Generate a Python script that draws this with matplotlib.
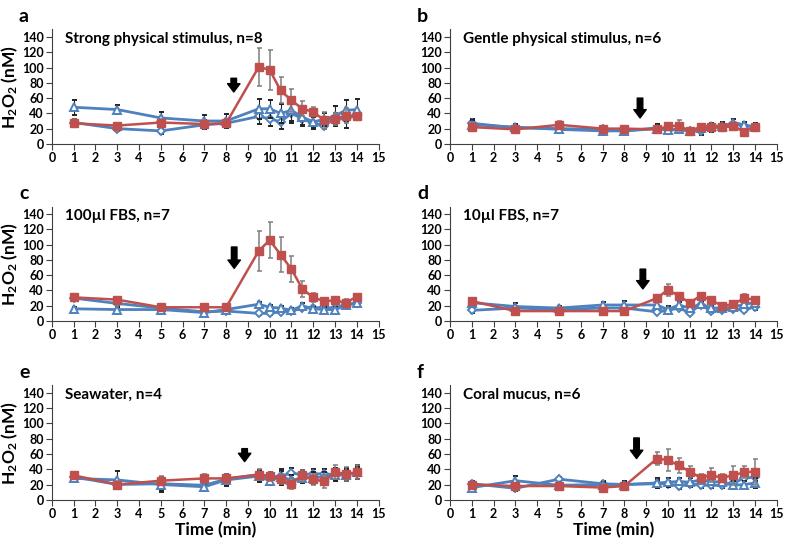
import matplotlib.pyplot as plt

plt.rcParams['font.family'] = ['Lato', 'DejaVu Sans']
plt.rcParams['font.weight'] = 'bold'
plt.rcParams['mathtext.fontset'] = 'custom'
plt.rcParams['mathtext.rm'] = 'Lato:bold'
plt.rcParams['mathtext.default'] = 'rm'

RED = '#C0504D'
BLUE = '#4F81BD'

# sampling times (min)
t = [1, 3, 5, 7, 8, 9.5, 10, 10.5, 11, 11.5, 12, 12.5, 13, 13.5, 14]

# panel a: strong physical stimulus
a_red = [27, 24, 28, 26, 27, 101, 97, 70, 57, 46, 42, 31, 33, 37, 36]
a_red_err = [5, 3, 5, 4, 3, 25, 26, 17, 15, 10, 6, 11, 8, 10, 5]
a_tri = [48, 45, 34, 30, 30, 46, 46, 40, 44, 35, 29, 32, 37, 44, 45]
a_tri_err = [10, 6, 8, 8, 9, 13, 12, 12, 14, 10, 8, 9, 13, 14, 14]
a_dia = [28, 20, 17, 25, 27, 36, 33, 29, 40, 33, 27, 24, 33, 33, 37]
a_dia_err = [4, 3, 4, 6, 5, 10, 10, 9, 12, 9, 8, 5, 7, 12, 5]

# panel b: gentle physical stimulus
b_red = [22, 19, 25, 20, 20, 19, 23, 24, 17, 22, 22, 22, 23, 16, 22]
b_red_err = [5, 4, 5, 3, 3, 4, 4, 7, 4, 4, 4, 4, 4, 3, 4]
b_tri = [25, 22, 19, 17, 17, 20, 18, 19, 17, 21, 24, 23, 28, 25, 22]
b_tri_err = [6, 4, 4, 5, 3, 6, 4, 4, 4, 5, 4, 6, 4, 4, 5]
b_dia = [27, 21, 20, 19, 17, 21, 18, 19, 17, 17, 21, 22, 26, 24, 22]
b_dia_err = [6, 5, 4, 4, 3, 5, 4, 4, 4, 5, 5, 5, 3, 4, 4]

# panel c: 100 ul FBS
c_red = [31, 28, 18, 18, 18, 92, 106, 87, 68, 42, 31, 26, 27, 24, 32]
c_red_err = [4, 3, 2, 2, 2, 26, 24, 23, 17, 10, 6, 3, 3, 5, 4]
c_tri = [16, 15, 15, 11, 15, 22, 18, 17, 14, 20, 16, 15, 15, 21, 23]
c_tri_err = [2, 2, 2, 2, 2, 3, 3, 3, 3, 4, 3, 3, 3, 3, 3]
c_dia = [30, 23, 17, 12, 13, 10, 10, 12, 13, 17, 17, 18, 17, 22, 23]
c_dia_err = [3, 3, 2, 2, 2, 2, 2, 2, 2, 3, 3, 3, 3, 3, 3]

# panel d: 10 ul FBS
d_red = [26, 13, 13, 13, 13, 30, 41, 33, 24, 33, 27, 20, 22, 30, 28]
d_red_err = [4, 2, 2, 2, 2, 4, 8, 4, 3, 3, 4, 3, 3, 6, 4]
d_tri = [24, 19, 17, 21, 21, 21, 15, 21, 17, 22, 17, 17, 18, 22, 24]
d_tri_err = [6, 4, 3, 4, 5, 4, 5, 4, 3, 4, 3, 3, 3, 4, 4]
d_dia = [14, 17, 15, 17, 17, 12, 14, 17, 11, 21, 13, 14, 16, 14, 19]
d_dia_err = [3, 3, 2, 3, 3, 2, 3, 3, 2, 3, 2, 2, 2, 2, 5]

# panel e: seawater
e_red = [32, 20, 25, 28, 28, 33, 31, 27, 21, 32, 27, 24, 36, 34, 36]
e_red_err = [3, 4, 6, 6, 6, 7, 6, 6, 7, 7, 7, 8, 9, 9, 9]
e_tri = [28, 26, 20, 17, 26, 31, 25, 30, 26, 28, 29, 30, 33, 32, 36]
e_tri_err = [4, 12, 10, 4, 8, 8, 6, 10, 6, 6, 8, 7, 9, 8, 9]
e_dia = [30, 20, 21, 19, 27, 33, 30, 31, 35, 33, 34, 34, 33, 34, 35]
e_dia_err = [3, 4, 8, 4, 6, 6, 6, 7, 6, 6, 6, 6, 9, 8, 8]

# panel f: coral mucus
f_red = [20, 18, 18, 16, 18, 54, 52, 45, 37, 29, 32, 29, 32, 36, 37]
f_red_err = [3, 3, 3, 2, 2, 9, 14, 10, 7, 5, 9, 5, 12, 8, 17]
f_tri = [16, 25, 19, 20, 20, 22, 23, 24, 23, 26, 24, 23, 19, 20, 22]
f_tri_err = [3, 6, 3, 3, 4, 6, 6, 5, 5, 4, 4, 4, 5, 4, 7]
f_dia = [21, 15, 27, 21, 20, 21, 21, 18, 21, 19, 19, 19, 22, 28, 30]
f_dia_err = [3, 3, 3, 3, 3, 5, 4, 4, 4, 3, 4, 4, 4, 4, 5]

titles = ['Strong physical stimulus, n=8', 'Gentle physical stimulus, n=6',
          '100\u00b5l FBS, n=7', '10\u00b5l FBS, n=7',
          'Seawater, n=4', 'Coral mucus, n=6']
letters = ['a', 'b', 'c', 'd', 'e', 'f']
arrow_x = [8.35, 8.72, 8.37, 8.85, 8.85, 8.56]
arrow_y = [(86, 68), (60, 34), (97, 69), (68, 42), (67, 50), (81, 54)]

panels = [
    (a_red, a_red_err, a_tri, a_tri_err, a_dia, a_dia_err),
    (b_red, b_red_err, b_tri, b_tri_err, b_dia, b_dia_err),
    (c_red, c_red_err, c_tri, c_tri_err, c_dia, c_dia_err),
    (d_red, d_red_err, d_tri, d_tri_err, d_dia, d_dia_err),
    (e_red, e_red_err, e_tri, e_tri_err, e_dia, e_dia_err),
    (f_red, f_red_err, f_tri, f_tri_err, f_dia, f_dia_err),
]

fig = plt.figure(figsize=(7.87, 5.45), dpi=100)

lefts = [0.066, 0.572]
bottoms = [0.736, 0.411, 0.083]
w, h = 0.415, 0.210

for i, (red, red_e, tri, tri_e, dia, dia_e) in enumerate(panels):
    row, col = i // 2, i % 2
    ax = fig.add_axes([lefts[col], bottoms[row], w, h])

    ax.errorbar(t, dia, yerr=dia_e, color=BLUE, lw=2, marker='D', ms=4,
                mfc='white', mec=BLUE, mew=1.4, ecolor='#222222', elinewidth=0.8,
                capsize=1.8, capthick=0.8, zorder=2)
    ax.errorbar(t, tri, yerr=tri_e, color=BLUE, lw=2, marker='^', ms=5.5,
                mfc='white', mec=BLUE, mew=1.4, ecolor='#222222', elinewidth=0.8,
                capsize=1.8, capthick=0.8, zorder=3)
    ax.errorbar(t, red, yerr=red_e, color=RED, lw=1.8, marker='s', ms=5.5,
                mfc=RED, mec=RED, ecolor='#7f7f7f', elinewidth=1.1,
                capsize=1.8, capthick=1.1, zorder=4)

    ax.annotate('', xy=(arrow_x[i], arrow_y[i][1]), xytext=(arrow_x[i], arrow_y[i][0]),
                arrowprops=dict(facecolor='black', edgecolor='black', width=4,
                                headwidth=9, headlength=6))

    ax.set_xlim(0, 15)
    ax.set_ylim(0, 150)
    ax.set_xticks(range(0, 16))
    ax.set_yticks(range(0, 141, 20))
    ax.spines['top'].set_visible(False)
    ax.spines['right'].set_visible(False)
    ax.spines['left'].set_color('#404040')
    ax.spines['bottom'].set_color('#404040')
    ax.tick_params(labelsize=9, length=4, color='#404040', pad=2)
    for lab in ax.get_xticklabels() + ax.get_yticklabels():
        lab.set_fontweight('bold')

    ax.text(0.6, 137, titles[i], fontsize=11, fontweight='bold', va='center')
    fig.text(lefts[col] - 0.042, bottoms[row] + h + 0.024, letters[i],
             fontsize=14, fontweight='bold', va='center')

    if col == 0:
        ax.set_ylabel('H$_2$O$_2$ (nM)', fontsize=12.5, fontweight='bold', labelpad=1)
    if row == 2:
        ax.set_xlabel('Time (min)', fontsize=12.5, fontweight='bold', labelpad=1)

fig.savefig('out.png', dpi=100)
